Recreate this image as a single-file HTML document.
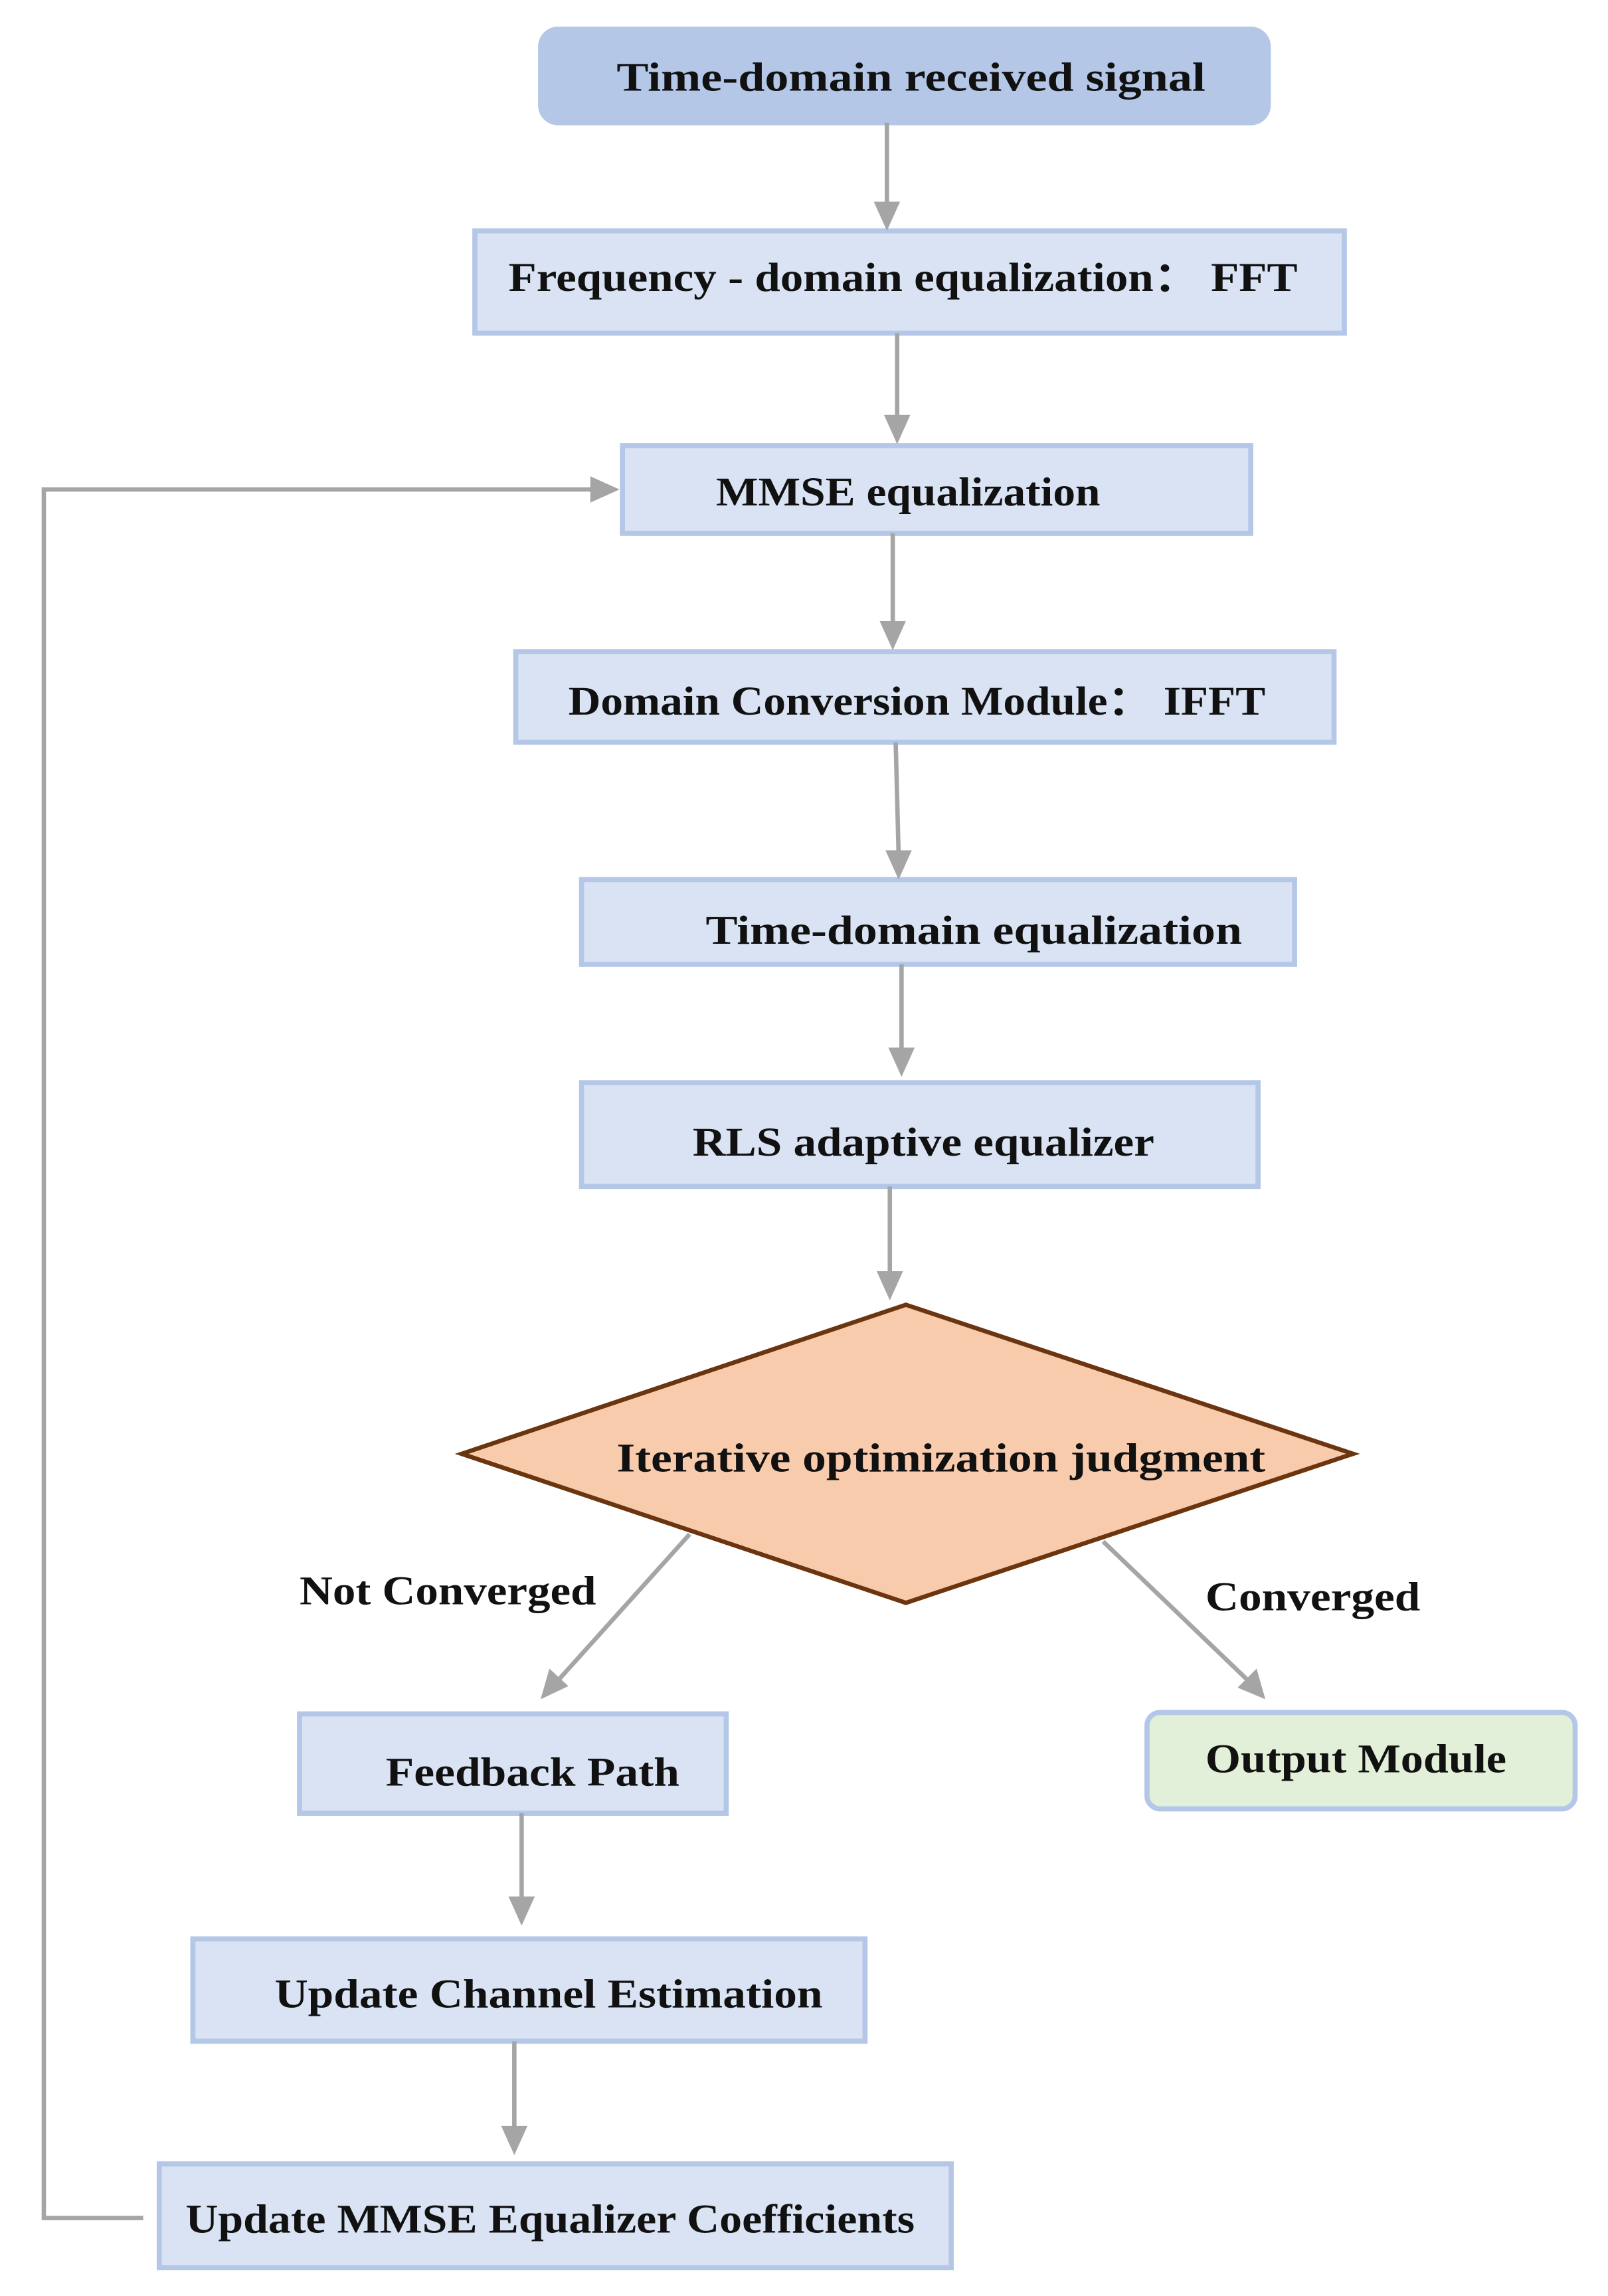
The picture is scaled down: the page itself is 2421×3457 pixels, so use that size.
<!DOCTYPE html>
<html><head><meta charset="utf-8"><style>html,body{margin:0;padding:0;background:#fff}svg{display:block}</style></head>
<body>
<svg width="2421" height="3457" viewBox="0 0 1100.5 1571.4" preserveAspectRatio="none" xmlns="http://www.w3.org/2000/svg">
<rect width="1100.5" height="1571.4" fill="#fff"/>
<g fill="#dae3f3" stroke="#b4c7e7" stroke-width="3.5">
<rect x="370" y="20" width="498" height="64" rx="12" fill="#b4c7e7"/>
<rect x="325" y="158" width="595" height="70"/>
<rect x="426" y="305" width="430" height="60"/>
<rect x="353" y="446" width="560" height="62"/>
<rect x="398" y="602" width="488" height="58"/>
<rect x="398" y="741" width="463" height="71"/>
<rect x="205" y="1173" width="292" height="68"/>
<rect x="785" y="1172" width="293" height="66" rx="9" fill="#e2efd9"/>
<rect x="132" y="1327" width="460" height="70"/>
<rect x="109" y="1481" width="542" height="71"/>
</g>
<polygon points="316,995 620,893 926,995 620,1097" fill="#f8cbad" stroke="#6b3510" stroke-width="3"/>
<g stroke="#a5a5a5" stroke-width="3" fill="none">
<line x1="607" y1="84" x2="607" y2="140"/>
<line x1="614" y1="228" x2="614" y2="287"/>
<line x1="611" y1="365" x2="611" y2="428"/>
<line x1="613" y1="508" x2="615" y2="585"/>
<line x1="617" y1="660" x2="617" y2="720"/>
<line x1="609" y1="812" x2="609" y2="873"/>
<line x1="472" y1="1050" x2="382" y2="1150"/>
<line x1="755" y1="1055" x2="854" y2="1150"/>
<line x1="357" y1="1241" x2="357" y2="1300"/>
<line x1="352" y1="1397" x2="352" y2="1458"/>
<polyline points="98,1518 30,1518 30,335 406,335"/>
</g>
<g fill="#a5a5a5">
<polygon points="598,138 616,138 607,158"/>
<polygon points="605,284 623,284 614,304"/>
<polygon points="602,425 620,425 611,445"/>
<polygon points="606,582 624,582 615,602"/>
<polygon points="608,717 626,717 617,737"/>
<polygon points="600,870 618,870 609,890"/>
<polygon points="370,1163 376,1142 389,1154"/>
<polygon points="866,1163 847,1155 860,1142"/>
<polygon points="348,1298 366,1298 357,1318"/>
<polygon points="343,1455 361,1455 352,1475"/>
<polygon points="424,335 404,326 404,344"/>
</g>
<g font-family="'Liberation Serif',serif" font-weight="bold" font-size="28" fill="#111">
<text x="422" y="62" textLength="403" lengthAdjust="spacingAndGlyphs">Time-domain received signal</text>
<text x="348" y="199" textLength="540" lengthAdjust="spacingAndGlyphs">Frequency - domain equalization： FFT</text>
<text x="490" y="346" textLength="263" lengthAdjust="spacingAndGlyphs">MMSE equalization</text>
<text x="389" y="489" textLength="477" lengthAdjust="spacingAndGlyphs">Domain Conversion Module： IFFT</text>
<text x="483" y="646" textLength="367" lengthAdjust="spacingAndGlyphs">Time-domain equalization</text>
<text x="474" y="791" textLength="316" lengthAdjust="spacingAndGlyphs">RLS adaptive equalizer</text>
<text x="422" y="1007" textLength="444" lengthAdjust="spacingAndGlyphs">Iterative optimization judgment</text>
<text x="205" y="1098" textLength="203" lengthAdjust="spacingAndGlyphs">Not Converged</text>
<text x="825" y="1102" textLength="147" lengthAdjust="spacingAndGlyphs">Converged</text>
<text x="264" y="1222" textLength="201" lengthAdjust="spacingAndGlyphs">Feedback Path</text>
<text x="825" y="1213" textLength="206" lengthAdjust="spacingAndGlyphs">Output Module</text>
<text x="188" y="1374" textLength="375" lengthAdjust="spacingAndGlyphs">Update Channel Estimation</text>
<text x="127" y="1528" textLength="499" lengthAdjust="spacingAndGlyphs">Update MMSE Equalizer Coefficients</text>
</g>
</svg>
</body></html>
